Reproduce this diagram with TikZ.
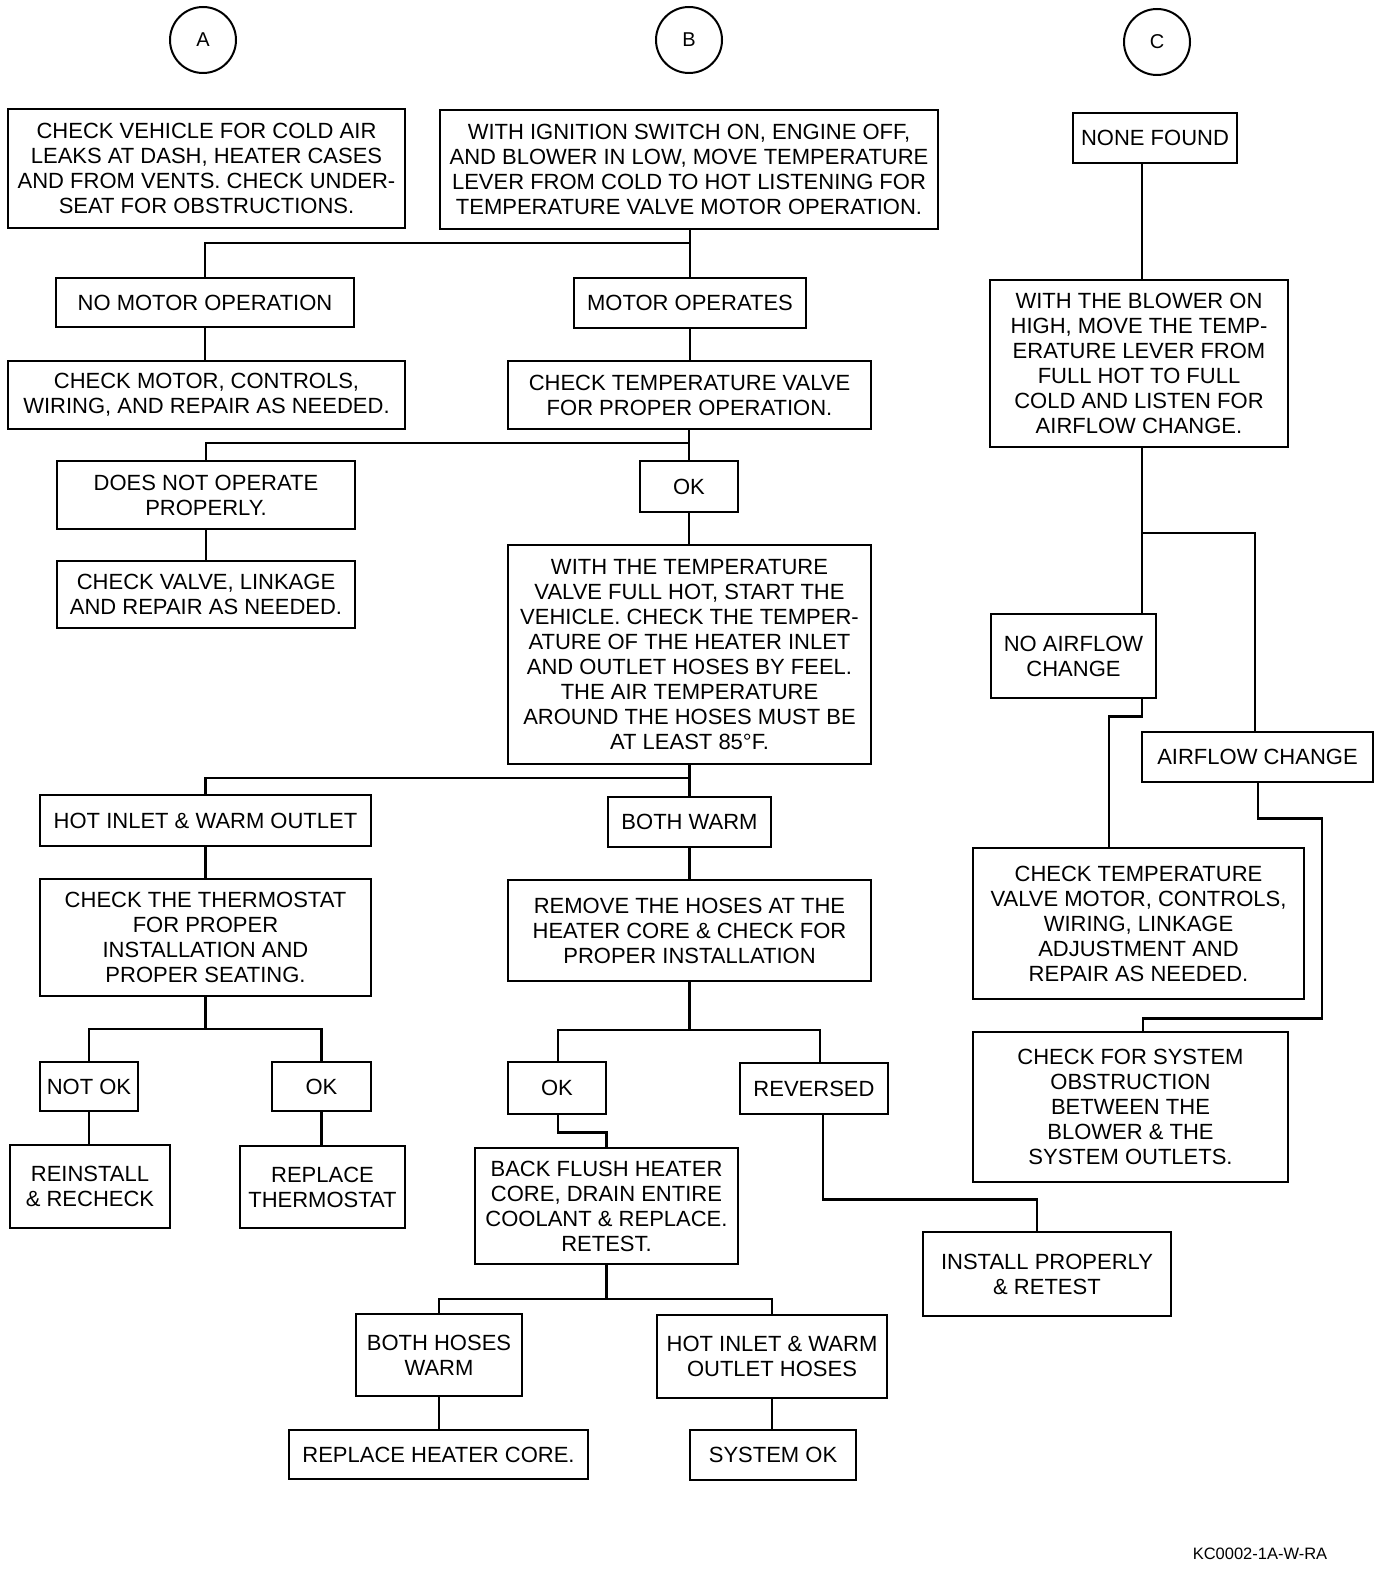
\documentclass[tikz,border=0pt]{standalone}
\usepackage{fontspec}
\setmainfont{Liberation Sans}
\begin{document}
\begin{tikzpicture}[x=1pt,y=-1pt,
  box/.style={draw, line width=2.6pt, inner sep=0pt, align=center, font=\fontsize{22}{25}\selectfont},
  lbl/.style={draw, circle, line width=2pt, minimum size=66pt, inner sep=0pt, font=\fontsize{20}{22}\selectfont},
  conn/.style={line width=2.6pt}]
\useasboundingbox[fill=white] (0,0) rectangle (1392,1570);

% circles
\node[lbl] (cA) at (203,40) {A};
\node[lbl] (cB) at (689,40) {B};
\node[lbl] (cC) at (1157,42) {C};

% column A / B boxes
\node[box, minimum width=397, minimum height=119] (a1) at (206.5,168.5)
  {CHECK VEHICLE FOR COLD AIR\\LEAKS AT DASH, HEATER CASES\\AND FROM VENTS. CHECK UNDER-\\SEAT FOR OBSTRUCTIONS.};
\node[box, minimum width=498, minimum height=119] (b1) at (689,169.5)
  {WITH IGNITION SWITCH ON, ENGINE OFF,\\AND BLOWER IN LOW, MOVE TEMPERATURE\\LEVER FROM COLD TO HOT LISTENING FOR\\TEMPERATURE VALVE MOTOR OPERATION.};
\node[box, minimum width=298, minimum height=49] (nmo) at (205,302.5) {NO MOTOR OPERATION};
\node[box, minimum width=232, minimum height=50] (mo) at (690,303) {MOTOR OPERATES};
\node[box, minimum width=397, minimum height=68] (cm) at (206.5,395)
  {CHECK MOTOR, CONTROLS,\\WIRING, AND REPAIR AS NEEDED.};
\node[box, minimum width=363, minimum height=68] (ctv) at (689.5,395)
  {CHECK TEMPERATURE VALVE\\FOR PROPER OPERATION.};
\node[box, minimum width=298, minimum height=68] (dno) at (206,495)
  {DOES NOT OPERATE\\PROPERLY.};
\node[box, minimum width=98, minimum height=51] (ok1) at (689,486.5) {OK};
\node[box, minimum width=298, minimum height=67] (cvl) at (206,594.5)
  {CHECK VALVE, LINKAGE\\AND REPAIR AS NEEDED.};
\node[box, minimum width=363, minimum height=219] (wtt) at (689.5,654.5)
  {WITH THE TEMPERATURE\\VALVE FULL HOT, START THE\\VEHICLE. CHECK THE TEMPER-\\ATURE OF THE HEATER INLET\\AND OUTLET HOSES BY FEEL.\\THE AIR TEMPERATURE\\AROUND THE HOSES MUST BE\\AT LEAST 85°F.};
\node[box, minimum width=331, minimum height=51] (hiwo) at (205.5,820.5) {HOT INLET \& WARM OUTLET};
\node[box, minimum width=163, minimum height=50] (bw) at (689.5,822) {BOTH WARM};
\node[box, minimum width=331, minimum height=117] (ctt) at (205.5,937.5)
  {CHECK THE THERMOSTAT\\FOR PROPER\\INSTALLATION AND\\PROPER SEATING.};
\node[box, minimum width=363, minimum height=101] (rmh) at (689.5,930.5)
  {REMOVE THE HOSES AT THE\\HEATER CORE \& CHECK FOR\\PROPER INSTALLATION};
\node[box, minimum width=98, minimum height=49] (nok) at (89,1086.5) {NOT OK};
\node[box, minimum width=99, minimum height=49] (okA) at (321.5,1086.5) {OK};
\node[box, minimum width=98, minimum height=52] (okB) at (557,1088) {OK};
\node[box, minimum width=148, minimum height=51] (rev) at (814,1088.5) {REVERSED};
\node[box, minimum width=160, minimum height=83] (rr) at (90,1186.5) {REINSTALL\\\& RECHECK};
\node[box, minimum width=165, minimum height=82] (rt) at (322.5,1187) {REPLACE\\THERMOSTAT};
\node[box, minimum width=263, minimum height=116] (bf) at (606.5,1206)
  {BACK FLUSH HEATER\\CORE, DRAIN ENTIRE\\COOLANT \& REPLACE.\\RETEST.};
\node[box, minimum width=248, minimum height=84] (ip) at (1047,1274) {INSTALL PROPERLY\\\& RETEST};
\node[box, minimum width=166, minimum height=82] (bhw) at (439,1355) {BOTH HOSES\\WARM};
\node[box, minimum width=230, minimum height=83] (hiwh) at (772,1356.5) {HOT INLET \& WARM\\OUTLET HOSES};
\node[box, minimum width=299, minimum height=49] (rhc) at (438.5,1454.5) {REPLACE HEATER CORE.};
\node[box, minimum width=166, minimum height=50] (sok) at (773,1455) {SYSTEM OK};

% column C boxes
\node[box, minimum width=164, minimum height=50] (c1) at (1155,138) {NONE FOUND};
\node[box, minimum width=298, minimum height=167] (c2) at (1139,363.5)
  {WITH THE BLOWER ON\\HIGH, MOVE THE TEMP-\\ERATURE LEVER FROM\\FULL HOT TO FULL\\COLD AND LISTEN FOR\\AIRFLOW CHANGE.};
\node[box, minimum width=165, minimum height=84] (naf) at (1073.5,656) {NO AIRFLOW\\CHANGE};
\node[box, minimum width=231, minimum height=50] (afc) at (1257.5,757) {AIRFLOW CHANGE};
\node[box, minimum width=331, minimum height=151] (ctvm) at (1138.5,923.5)
  {CHECK TEMPERATURE\\VALVE MOTOR, CONTROLS,\\WIRING, LINKAGE\\ADJUSTMENT AND\\REPAIR AS NEEDED.};
\node[box, minimum width=315, minimum height=150] (cfs) at (1130.5,1107)
  {CHECK FOR SYSTEM\\OBSTRUCTION\\BETWEEN THE\\BLOWER \& THE\\SYSTEM OUTLETS.};

\node[font=\fontsize{16.5}{18}\selectfont, inner sep=0pt] (foot) at (1260,1554) {KC0002-1A-W-RA};

% connectors column B / A
\coordinate (j1) at (mo.north |- 0,243);
\draw[conn] (mo.north |- b1.south) -- (mo.north);
\draw[conn] (j1) -| (nmo.north);
\draw[conn] (nmo.south) -- (nmo.south |- cm.north);
\draw[conn] (mo.south) -- (mo.south |- ctv.north);
\coordinate (j2) at (ok1.north |- 0,443);
\draw[conn] (ok1.north |- ctv.south) -- (ok1.north);
\draw[conn] (j2) -| (dno.north);
\draw[conn] (dno.south) -- (dno.south |- cvl.north);
\draw[conn] (ok1.south) -- (ok1.south |- wtt.north);
\coordinate (j3) at (bw.north |- 0,778);
\draw[conn] (bw.north |- wtt.south) -- (bw.north);
\draw[conn] (j3) -| (hiwo.north);
\draw[conn] (hiwo.south) -- (hiwo.south |- ctt.north);
\coordinate (j4) at (ctt.south |- 0,1029);
\draw[conn] (ctt.south) -- (j4);
\draw[conn] (nok.north) |- (j4) -| (okA.north);
\draw[conn] (nok.south) -- (nok.south |- rr.north);
\draw[conn] (okA.south) -- (okA.south |- rt.north);
\draw[conn] (bw.south) -- (bw.south |- rmh.north);
\coordinate (revt) at ([xshift=6]rev.north);
\coordinate (revb) at ([xshift=9]rev.south);
\coordinate (okBt) at ([xshift=1]okB.north);
\coordinate (j5) at (rmh.south |- 0,1030);
\draw[conn] (rmh.south) -- (j5);
\draw[conn] (okBt) |- (j5) -| (revt);
\draw[conn] ([xshift=1]okB.south) -- ++(0,17) -| (bf.north);
\coordinate (ipt) at ([xshift=-10]ip.north);
\draw[conn] (revb) -- ++(0,84) -| (ipt);
\coordinate (j6) at (bf.south |- 0,1299);
\draw[conn] (bf.south) -- (j6);
\draw[conn] (bhw.north) |- (j6) -| (hiwh.north);
\draw[conn] (bhw.south) -- (bhw.south |- rhc.north);
\draw[conn] (hiwh.south) -- (hiwh.south |- sok.north);

% connectors column C
\coordinate (c1b) at ([xshift=-13]c1.south);
\coordinate (c2t) at ([xshift=3]c2.north);
\draw[conn] (c1b) -- (c2t);
\coordinate (c2b) at ([xshift=3]c2.south);
\coordinate (naft) at ([xshift=68.5]naf.north);
\coordinate (afct) at ([xshift=-2.5]afc.north);
\draw[conn] (c2b) -- (naft);
\draw[conn] (c2b |- 0,533) -| (afct);
\coordinate (nafb) at ([xshift=68.5]naf.south);
\coordinate (ctvmt) at ([xshift=-29.5]ctvm.north);
\draw[conn] (nafb) -- ++(0,17) -| (ctvmt);
\coordinate (afcb) at ([xshift=0.5]afc.south);
\coordinate (cfst) at ([xshift=12.5]cfs.north);
\draw[conn] (afcb) -- ++(0,35) -- ++(64,0) -- ++(0,200) -| (cfst);
\end{tikzpicture}
\end{document}
